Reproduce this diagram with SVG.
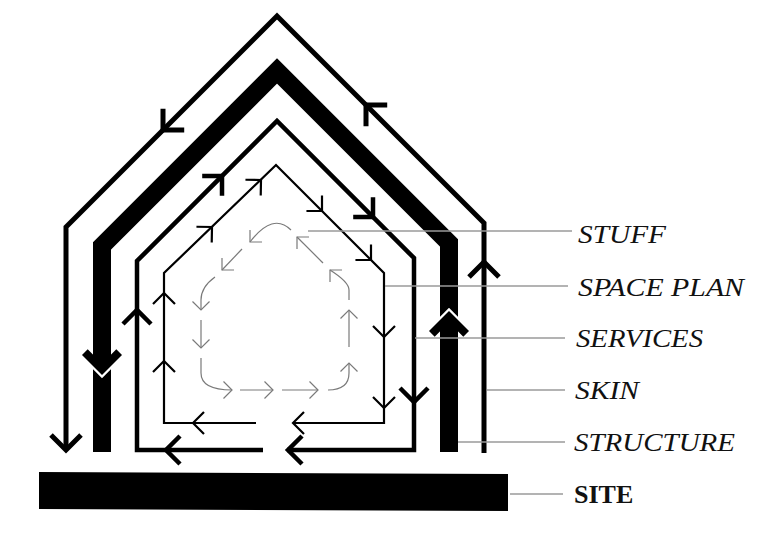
<svg xmlns="http://www.w3.org/2000/svg" xmlns:xlink="http://www.w3.org/1999/xlink" width="768" height="548" viewBox="0 0 768 548">
  <style>
    .ln { fill: none; stroke-linejoin: miter; stroke-linecap: butt; }
    .skin { stroke: #000; stroke-width: 5; }
    .struct { stroke: #000; stroke-width: 18; }
    .serv { stroke: #000; stroke-width: 4.5; }
    .sp { stroke: #000; stroke-width: 2.2; }
    .stuff { stroke: #7a7a7a; stroke-width: 1.2; }
    .leader { fill: none; stroke: #9a9a9a; stroke-width: 1.5; }
    .lbl { font-family: "Liberation Serif", "Times New Roman", serif; font-style: italic; font-size: 26px; fill: #111; }
    .lbl-site { font-family: "Liberation Serif", "Times New Roman", serif; font-weight: bold; font-size: 26px; fill: #111; }
  </style>
  <defs>
    <path id="ah-skin" d="M-15,-15 L0,0 L-15,15"/>
    <path id="ah-serv" d="M-14,-14 L0,0 L-14,14"/>
    <path id="ah-sp" d="M-11,-11 L0,0 L-11,11"/>
    <path id="ah-stuff" d="M-8.5,-8.5 L0,0 L-8.5,8.5"/>
  </defs>
  <rect width="768" height="548" fill="#fff"/>

  <g id="site">
    <polygon points="39,472 508,474 508,511 39,509" fill="#000"/>
  </g>

  <g id="skin" class="ln skin">
    <path d="M66,448 V227 L277,16 L484,223 V453"/>
    <use xlink:href="#ah-skin" transform="translate(163,130) rotate(135)"/>
    <use xlink:href="#ah-skin" transform="translate(366,105) rotate(-135)"/>
    <use xlink:href="#ah-skin" transform="translate(66,450) rotate(90)"/>
    <use xlink:href="#ah-skin" transform="translate(484,262) rotate(-90)"/>
  </g>

  <g id="structure">
    <path class="ln struct" d="M102,452 V246 L277,71 L449,243 V452"/>
    <polyline points="82,355 102,375 122,355" fill="none" stroke="#fff" stroke-width="4.5"/>
    <polygon points="82,355 102,375 122,355 116.3,349.3 102,363.7 87.7,349.3" fill="#000"/>
    <polyline points="429,331 449,311 469,331" fill="none" stroke="#fff" stroke-width="4.5"/>
    <polygon points="429,331 449,311 469,331 463.3,336.7 449,322.3 434.7,336.7" fill="#000"/>
  </g>

  <g id="services" class="ln serv">
    <path d="M263,450 H137 V261 L277,121 L414,258 V450 H287"/>
    <use xlink:href="#ah-serv" transform="translate(222,176) rotate(-45)"/>
    <use xlink:href="#ah-serv" transform="translate(373,217) rotate(45)"/>
    <use xlink:href="#ah-serv" transform="translate(137,310) rotate(-90)"/>
    <use xlink:href="#ah-serv" transform="translate(414,402) rotate(90)"/>
    <use xlink:href="#ah-serv" transform="translate(166,450) rotate(180)"/>
    <use xlink:href="#ah-serv" transform="translate(288,450) rotate(180)"/>
  </g>

  <g id="space-plan" class="ln sp">
    <path d="M256,423 H164 V273 L276,165 L384,273 V423 H293"/>
    <use xlink:href="#ah-sp" transform="translate(212,227) rotate(-44)"/>
    <use xlink:href="#ah-sp" transform="translate(261,180) rotate(-44)"/>
    <use xlink:href="#ah-sp" transform="translate(322,211) rotate(45)"/>
    <use xlink:href="#ah-sp" transform="translate(371,260) rotate(45)"/>
    <use xlink:href="#ah-sp" transform="translate(164,293) rotate(-90)"/>
    <use xlink:href="#ah-sp" transform="translate(164,361) rotate(-90)"/>
    <use xlink:href="#ah-sp" transform="translate(384,337) rotate(90)"/>
    <use xlink:href="#ah-sp" transform="translate(384,408) rotate(90)"/>
    <use xlink:href="#ah-sp" transform="translate(193,423) rotate(180)"/>
    <use xlink:href="#ah-sp" transform="translate(293,423) rotate(180)"/>
  </g>

  <g id="stuff" class="ln stuff">
    <path d="M291,230 Q273,212 250,242"/>
    <use xlink:href="#ah-stuff" transform="translate(250,242) rotate(135)"/>
    <path d="M242,249 L222,270"/>
    <use xlink:href="#ah-stuff" transform="translate(222,270) rotate(135)"/>
    <path d="M215,277 Q201,287 201,300 V310"/>
    <use xlink:href="#ah-stuff" transform="translate(201,310) rotate(90)"/>
    <path d="M201,320 V348"/>
    <use xlink:href="#ah-stuff" transform="translate(201,348) rotate(90)"/>
    <path d="M201,358 V373 Q201,390 232,390"/>
    <use xlink:href="#ah-stuff" transform="translate(232,390)"/>
    <path d="M240,390 H273"/>
    <use xlink:href="#ah-stuff" transform="translate(273,390)"/>
    <path d="M282,390 H318"/>
    <use xlink:href="#ah-stuff" transform="translate(318,390)"/>
    <path d="M328,390 Q349,390 349,373 V363"/>
    <use xlink:href="#ah-stuff" transform="translate(349,363) rotate(-90)"/>
    <path d="M349,347 V310"/>
    <use xlink:href="#ah-stuff" transform="translate(349,310) rotate(-90)"/>
    <path d="M349,300 V290 Q349,282 330,270"/>
    <use xlink:href="#ah-stuff" transform="translate(330,270) rotate(-135)"/>
    <path d="M323,263 L297,237"/>
    <use xlink:href="#ah-stuff" transform="translate(297,237) rotate(-135)"/>
  </g>

  <g id="connectors" class="leader">
    <path d="M308,231 H572"/>
    <path d="M385,286 H568"/>
    <path d="M415,338 H565"/>
    <path d="M487,390 H565"/>
    <path d="M458,442 H565"/>
    <path d="M510,494 H563"/>
  </g>

  <g id="label-stuff"><text class="lbl" x="578" y="243" textLength="88" lengthAdjust="spacingAndGlyphs">STUFF</text></g>
  <g id="label-space-plan"><text class="lbl" x="578" y="296" textLength="166" lengthAdjust="spacingAndGlyphs">SPACE PLAN</text></g>
  <g id="label-services"><text class="lbl" x="576" y="347" textLength="127" lengthAdjust="spacingAndGlyphs">SERVICES</text></g>
  <g id="label-skin"><text class="lbl" x="575" y="399" textLength="64" lengthAdjust="spacingAndGlyphs">SKIN</text></g>
  <g id="label-structure"><text class="lbl" x="574" y="451" textLength="161" lengthAdjust="spacingAndGlyphs">STRUCTURE</text></g>
  <g id="label-site"><text class="lbl-site" x="574" y="503">SITE</text></g>
</svg>
